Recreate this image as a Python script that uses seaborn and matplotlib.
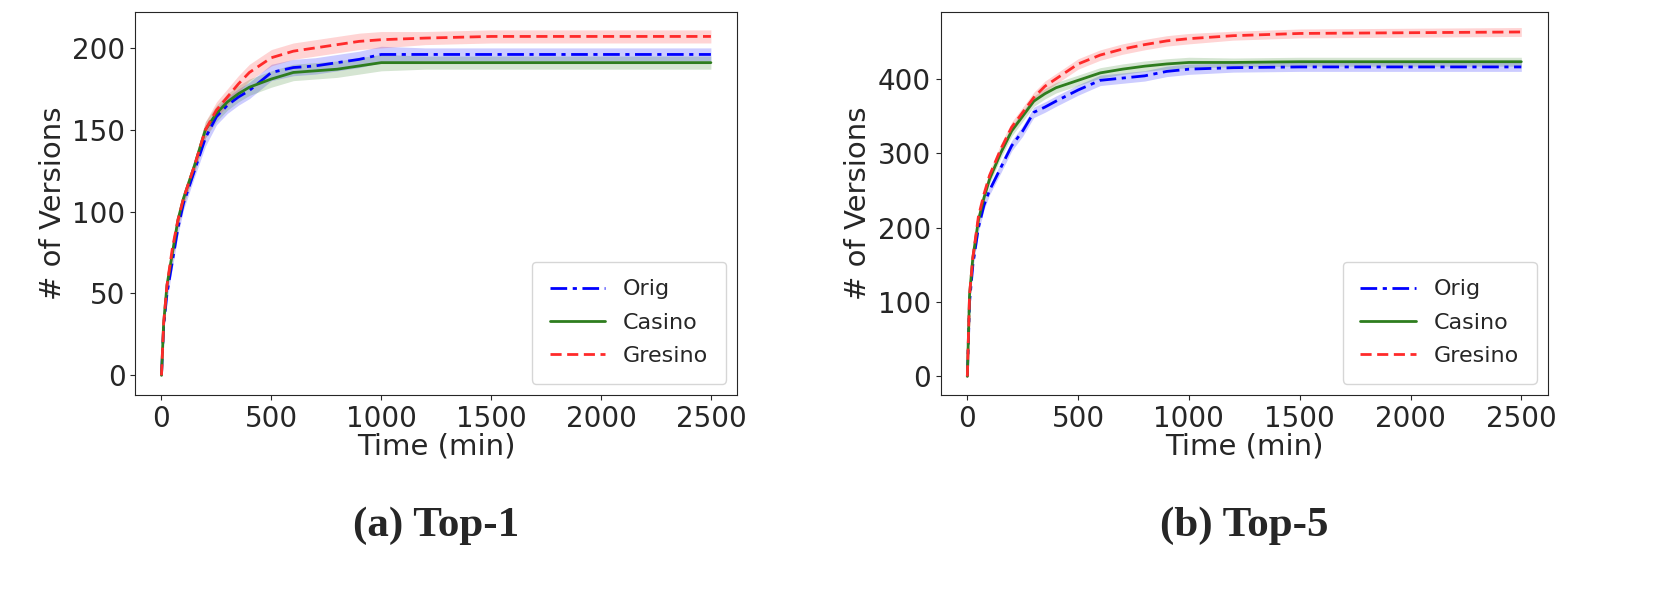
import numpy as np
import pandas as pd
import matplotlib
matplotlib.use("Agg")
import matplotlib.pyplot as plt
import seaborn as sns

# Values
time_min = [0, 10, 25, 50, 75, 100, 150, 200, 250, 300, 350, 400, 500, 600,
            700, 800, 900, 1000, 1200, 1500, 2000, 2500]

top1_orig = [0, 30, 50, 70, 90, 105, 125, 145, 158, 165, 170, 174, 185, 188,
             189, 191, 193, 196, 196, 196, 196, 196]
top1_casino = [0, 32, 55, 75, 95, 108, 128, 150, 160, 167, 172, 176, 181, 185,
               186, 187, 189, 191, 191, 191, 191, 191]
top1_gresino = [0, 32, 55, 78, 95, 108, 128, 150, 162, 170, 178, 185, 194, 198,
                200, 202, 204, 205, 206, 207, 207, 207]
top1_band = [0, 3, 4, 4, 4, 4, 4, 5, 5, 5, 5, 5, 5, 5, 5, 5, 5, 5, 4, 4, 4, 4]

top5_orig = [0, 100, 150, 200, 230, 250, 280, 310, 330, 355, 362, 370, 385, 398,
             401, 404, 410, 413, 415, 416, 416, 416]
top5_casino = [0, 110, 160, 210, 240, 265, 300, 330, 350, 370, 380, 388, 398, 408,
               413, 417, 420, 422, 422, 423, 423, 423]
top5_gresino = [0, 110, 160, 215, 245, 270, 305, 335, 355, 375, 390, 400, 420, 432,
                440, 446, 451, 454, 458, 461, 462, 463]
top5_band = [0, 4, 5, 6, 6, 6, 7, 7, 7, 7, 7, 7, 7, 7, 7, 7, 7, 7, 6, 6, 6, 6]

series_names = ["Orig", "Casino", "Gresino"]
colors = {"Orig": "#0000ff", "Casino": "#2e7d1e", "Gresino": "#ff2a2a"}
dashes = {"Orig": (6, 2, 1.5, 2), "Casino": "", "Gresino": (4, 2)}

panels = [
    ("(a) Top-1", [top1_orig, top1_casino, top1_gresino], top1_band,
     [0, 50, 100, 150, 200], (-12, 222)),
    ("(b) Top-5", [top5_orig, top5_casino, top5_gresino], top5_band,
     [0, 100, 200, 300, 400], (-25, 490)),
]

sns.set_style("ticks")
plt.rcParams["font.family"] = ["DejaVu Sans"]

fig = plt.figure(figsize=(16.68, 5.94), dpi=100)
positions = [[0.081, 0.335, 0.361, 0.645], [0.564, 0.335, 0.364, 0.645]]

for pos, (caption, values, band, yticks, ylim) in zip(positions, panels):
    ax = fig.add_axes(pos)
    df = pd.DataFrame({"time": np.tile(time_min, 3),
                       "versions": np.concatenate(values),
                       "method": np.repeat(series_names, len(time_min))})
    for name, vals in zip(series_names, values):
        v = np.array(vals)
        ax.fill_between(time_min, v - band, v + band, color=colors[name],
                        alpha=0.2, linewidth=0)
    sns.lineplot(data=df, x="time", y="versions", hue="method", style="method",
                 palette=colors, dashes=dashes, linewidth=2, ax=ax)
    ax.set_xlim(-120, 2620)
    ax.set_ylim(*ylim)
    ax.set_xticks([0, 500, 1000, 1500, 2000, 2500])
    ax.set_yticks(yticks)
    ax.tick_params(labelsize=20)
    ax.set_xlabel("Time (min)", fontsize=21, labelpad=0)
    ax.set_ylabel("# of Versions", fontsize=21)
    for s in ax.spines.values():
        s.set_visible(True)
    leg = ax.legend(loc="lower right", fontsize=16, handlelength=2.5,
                    borderpad=0.8, labelspacing=0.6)
    leg.get_frame().set_edgecolor("#cccccc")
    fig.text(pos[0] + pos[2] / 2, 0.115, caption, ha="center", va="center",
             fontsize=31, fontweight="bold", family=["Liberation Serif"])

fig.savefig("out.png", dpi=100)
